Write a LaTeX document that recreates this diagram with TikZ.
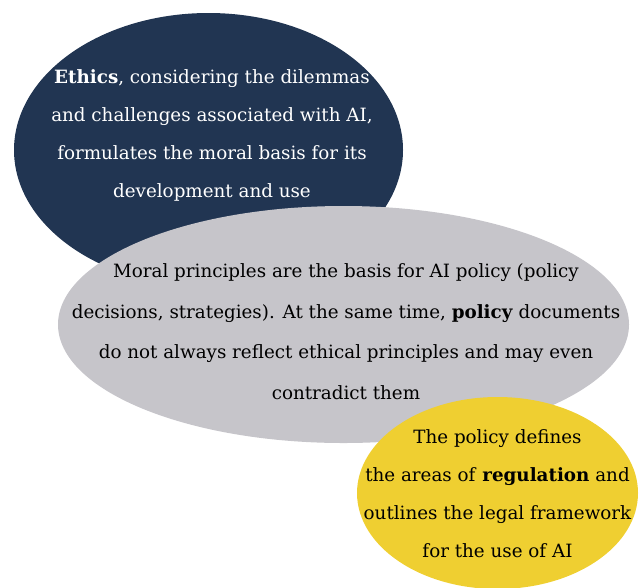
\documentclass[tikz,border=0pt]{standalone}
\usepackage{fontspec}
\setmainfont{DejaVu Serif}
\usetikzlibrary{shapes.geometric}
\definecolor{navy}{HTML}{213552}
\definecolor{pgray}{HTML}{C6C5CA}
\definecolor{pyellow}{HTML}{EFCF31}

\begin{document}
\begin{tikzpicture}[x=1pt,y=-1pt, enode/.style={ellipse,inner sep=0pt,draw=none}, tnode/.style={align=center,inner sep=0pt,font=\fontsize{18.3}{38}\selectfont}]
    \useasboundingbox (0,0) rectangle (639,587);

    % ellipses, back to front
    \node[enode,fill=navy,minimum width=389pt,minimum height=274pt] (eth) at (208.5,150) {};
    \node[enode,fill=pgray,minimum width=571pt,minimum height=237pt] (pol) at (343.5,324.5) {};
    \node[enode,fill=pyellow,minimum width=281pt,minimum height=192pt] (reg) at (497.5,493) {};

    % texts
    \node[tnode,text=white] (etht) at (212,135.5) {\textbf{Ethics}, considering the dilemmas\\and challenges associated with AI,\\formulates the moral basis for its\\development and use};
    \node[tnode,font=\fontsize{18.3}{40.5}\selectfont] (polt) at (346,331.5) {Moral principles are the basis for AI policy (policy\\decisions, strategies). At the same time, \textbf{policy} documents\\do not always reflect ethical principles and may even\\contradict them};
    \node[tnode] (regt) at (497.5,493.5) {The policy defines\\the areas of \textbf{regulation} and\\outlines the legal framework\\for the use of AI};
\end{tikzpicture}
\end{document}
